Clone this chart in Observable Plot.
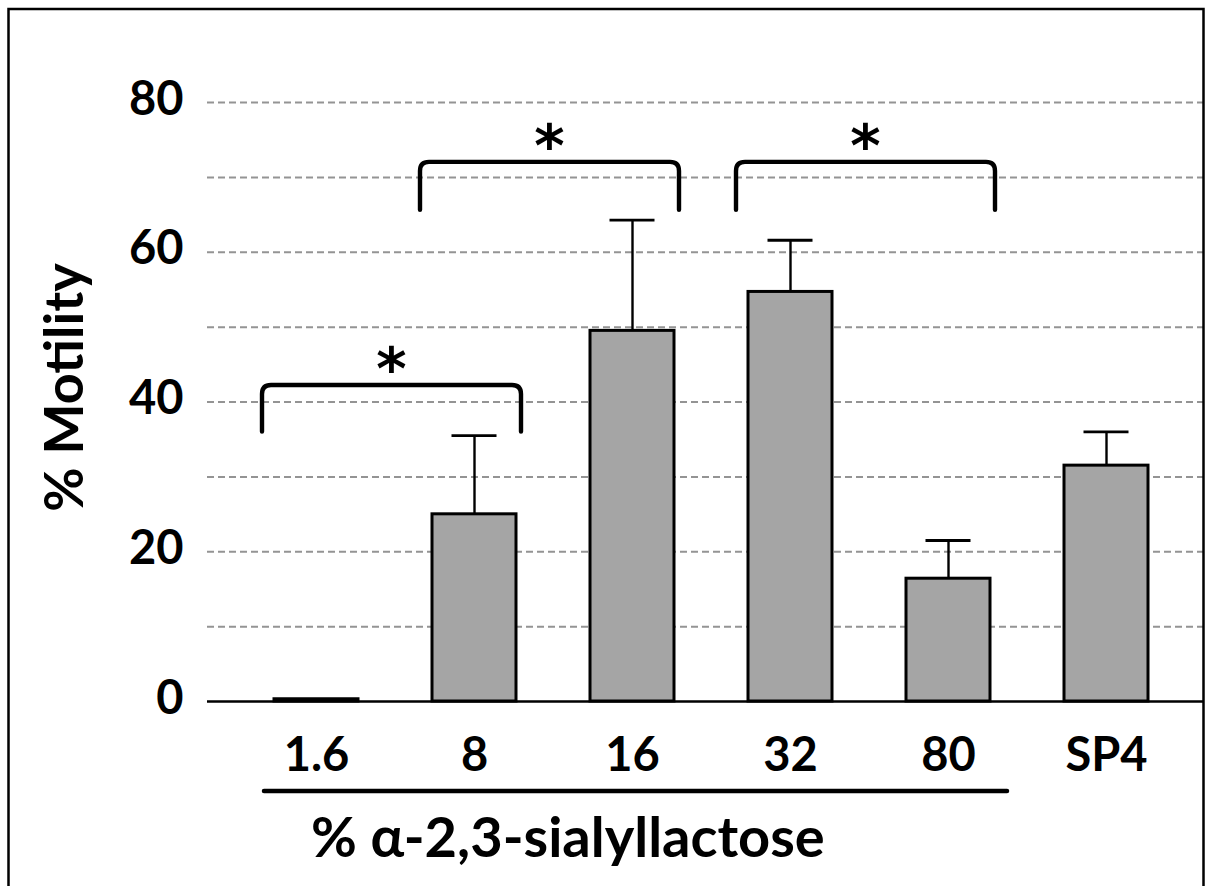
<!DOCTYPE html>
<html>
<head>
<meta charset="utf-8">
<script src="https://cdn.jsdelivr.net/npm/d3@7"></script>
<script src="https://cdn.jsdelivr.net/npm/@observablehq/plot@0.6"></script>
<style>
  html, body { margin: 0; padding: 0; background: #fff; }
  #chart { width: 1205px; height: 886px; overflow: hidden; position: relative; }
</style>
</head>
<body>
<div id="chart"></div>
<script>
// ---- data ----
const categories = ["1.6", "8", "16", "32", "80", "SP4"];
const motility   = [0.3, 25.0, 49.5, 54.7, 16.4, 31.5];   // % motility (bar height)
const errorUp    = [0, 10.5, 14.8, 6.9, 5.1, 4.5];         // upper error bar (SD)
const yTicks     = [0, 20, 40, 60, 80];
const gridLines  = [10, 20, 30, 40, 50, 60, 70, 80];
const yLabel     = "% Motility";
const groupCats  = ["1.6", "8", "16", "32", "80"];
const groupLabel = "% α-2,3-sialyllactose";
// significance brackets
const bracketFrom = ["1.6", "8", "32"];
const bracketTo   = ["8", "16", "80"];
const bracketLow  = [36.0, 65.6, 65.6];
const bracketHigh = [42.2, 72.0, 72.0];
const bracketMark = ["*", "*", "*"];

// ---- tables built from the arrays ----
const rows = categories.map((c, i) => ({cat: c, value: motility[i], upper: motility[i] + errorUp[i], err: errorUp[i]}));
const errRows = rows.filter(d => d.err > 0);
const brackets = bracketFrom.map((f, i) => ({from: f, to: bracketTo[i], low: bracketLow[i], high: bracketHigh[i], mark: bracketMark[i]}));

const FONT = "Lato, 'Open Sans', sans-serif";

const plot = Plot.plot({
  width: 1205,
  height: 886,
  marginLeft: 207,
  marginRight: 2,
  marginTop: 102,
  marginBottom: 185,
  style: {fontFamily: FONT, background: "#fff", color: "#000"},
  x: {domain: categories, range: [235.5, 1186.5], paddingInner: 0.47, paddingOuter: 0.235, label: null},
  y: {domain: [0, 80], range: [701, 102], label: null},
  marks: [
    Plot.ruleY(gridLines, {stroke: "#949494", strokeWidth: 2, strokeDasharray: "7,4"}),
    Plot.barY(rows, {x: "cat", y: "value", fill: "#a5a5a5", stroke: "#000", strokeWidth: 3}),
    Plot.ruleX(errRows, {x: "cat", y1: "value", y2: "upper", stroke: "#000", strokeWidth: 2.4}),
    Plot.tickY(errRows, {x: "cat", y: "upper", stroke: "#000", strokeWidth: 2.8, insetLeft: 19.5, insetRight: 19.5}),
    Plot.ruleY([0], {stroke: "#000", strokeWidth: 2.5}),
    Plot.axisY({ticks: yTicks, tickSize: 0, tickPadding: 24, fontSize: 47, fontWeight: "bold", label: null, dy: -3}),
    Plot.axisX({tickSize: 0, tickPadding: 36, fontSize: 47, fontWeight: "bold", label: null})
  ]
});

document.getElementById("chart").appendChild(plot);

// ---- annotations positioned through Plot's own scales ----
const sx = plot.scale("x"), sy = plot.scale("y");
const cx = c => sx.apply(c) + sx.bandwidth / 2;
const svg = d3.select(plot);

// significance brackets with rounded corners
const r = 9;
const g = svg.append("g");
brackets.forEach(b => {
  const xl = cx(b.from) - 54, xr = cx(b.to) + 47;
  const yt = sy.apply(b.high), yb = sy.apply(b.low);
  g.append("path")
    .attr("d", `M${xl},${yb} L${xl},${yt + r} Q${xl},${yt} ${xl + r},${yt} L${xr - r},${yt} Q${xr},${yt} ${xr},${yt + r} L${xr},${yb}`)
    .attr("fill", "none").attr("stroke", "#000").attr("stroke-width", 4.4)
    .attr("stroke-linecap", "round").attr("stroke-linejoin", "round");
  g.append("text")
    .attr("x", (xl + xr) / 2).attr("y", yt + 4)
    .attr("text-anchor", "middle")
    .style("font-family", "'DejaVu Sans', sans-serif").style("font-size", "58px").style("font-weight", "bold")
    .text(b.mark);
});

// group underline and label
const ux1 = cx(groupCats[0]) - 52, ux2 = cx(groupCats[groupCats.length - 1]) + 59;
g.append("line").attr("x1", ux1).attr("x2", ux2).attr("y1", 791).attr("y2", 791)
  .attr("stroke", "#000").attr("stroke-width", 4.5).attr("stroke-linecap", "round");
g.append("text").attr("x", ux1 + 47).attr("y", 857)
  .attr("text-anchor", "start")
  .style("font-family", FONT).style("font-size", "56px").style("font-weight", "bold")
  .text(groupLabel);

// y-axis title
g.append("text").attr("transform", "translate(83,387.5) rotate(-90)")
  .attr("text-anchor", "middle")
  .style("font-family", FONT).style("font-size", "54px").style("font-weight", "bold")
  .text(yLabel);

// outer border
g.append("rect").attr("x", 8.5).attr("y", 9).attr("width", 1195).attr("height", 900)
  .attr("fill", "none").attr("stroke", "#000").attr("stroke-width", 2.5);
</script>
</body>
</html>
